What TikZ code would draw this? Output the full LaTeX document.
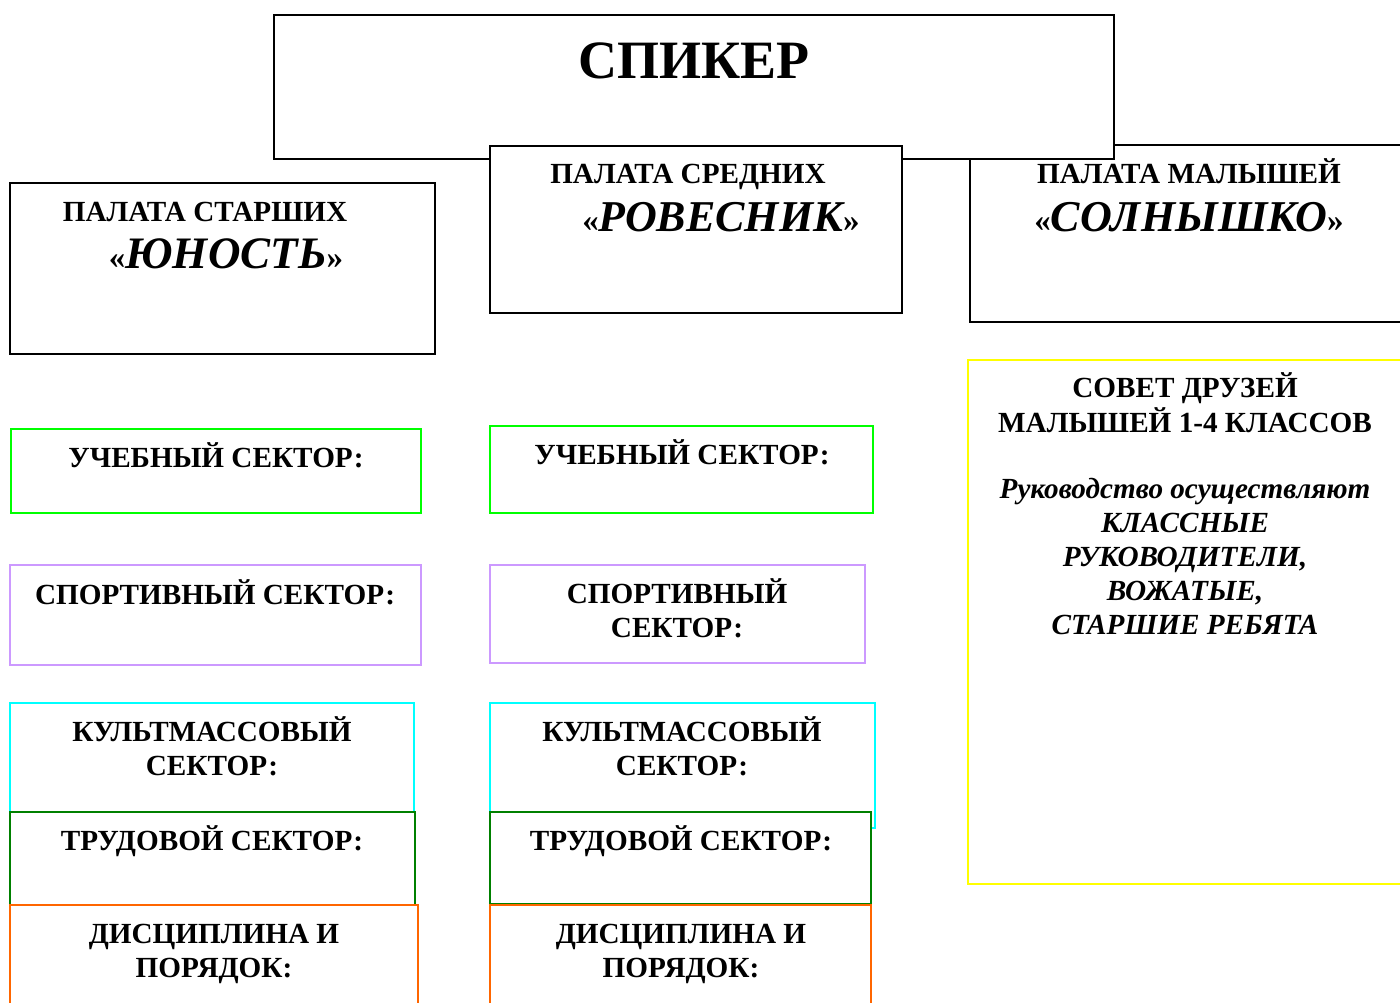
\documentclass[tikz,border=0pt]{standalone}
\usepackage{fontspec}
\setmainfont{Liberation Serif}
\definecolor{cgreen}{HTML}{00FF00}
\definecolor{cviolet}{HTML}{CC99FF}
\definecolor{ccyan}{HTML}{00FFFF}
\definecolor{cdgreen}{HTML}{008000}
\definecolor{corange}{HTML}{FF6600}
\definecolor{cyellow}{HTML}{FFFF00}
\begin{document}
\begin{tikzpicture}[x=0.5pt,y=-0.5pt,
  box/.style={draw, fill=white, line width=1pt, anchor=north west, inner sep=0pt, outer sep=0pt},
  txt/.style={anchor=base, inner sep=0pt, align=center, font=\fontsize{14.6}{16.75}\selectfont\bfseries}]
\useasboundingbox (0,0) rectangle (1400,1002);
\clip (0,0) rectangle (1400,1002);
% top boxes
\node[box, minimum width=220pt, minimum height=88.5pt] (mal) at (970,145) {};
\node[box, minimum width=420pt, minimum height=72pt] (spk) at (274,15) {};
\node[box, minimum width=206pt, minimum height=83.5pt] (sred) at (490,146) {};
\node[box, minimum width=212.5pt, minimum height=85.5pt] (star) at (10,183) {};
% yellow
\node[box, draw=cyellow, minimum width=221pt, minimum height=262pt] (sovet) at (968,360) {};
% left column
\node[box, draw=cgreen, minimum width=205pt, minimum height=42pt] (l1) at (11,429) {};
\node[box, draw=cviolet, minimum width=205.5pt, minimum height=50pt] (l2) at (10,565) {};
\node[box, draw=ccyan, minimum width=202pt, minimum height=54.5pt] (l3) at (10,703) {};
\node[box, draw=cdgreen, minimum width=202.5pt, minimum height=46.5pt] (l4) at (10,812) {};
\node[box, draw=corange, minimum width=204pt, minimum height=55pt] (l5) at (10,905) {};
% middle column
\node[box, draw=cgreen, minimum width=191.5pt, minimum height=43.5pt] (m1) at (490,426) {};
\node[box, draw=cviolet, minimum width=187.5pt, minimum height=49pt] (m2) at (490,565) {};
\node[box, draw=ccyan, minimum width=192.5pt, minimum height=62.5pt] (m3) at (490,703) {};
\node[box, draw=cdgreen, minimum width=190.5pt, minimum height=46pt] (m4) at (490,812) {};
\node[box, draw=corange, minimum width=190.5pt, minimum height=55pt] (m5) at (490,905) {};
% texts
\node[txt, font=\fontsize{27}{30}\selectfont\bfseries] (tspk) at (694,78) {СПИКЕР};
\node[txt] (tstar1) at (205,221) {ПАЛАТА СТАРШИХ};
\node[txt] (tstar2) at (226,268) {\fontsize{16.5}{18}\selectfont«{\fontsize{22.5}{24}\selectfont\itshape ЮНОСТЬ}»};
\node[txt] (tsred1) at (688,183) {ПАЛАТА СРЕДНИХ};
\node[txt] (tsred2) at (721,231) {\fontsize{16.5}{18}\selectfont«{\fontsize{22}{24}\selectfont\itshape РОВЕСНИК}»};
\node[txt] (tmal1) at (1189,183) {ПАЛАТА МАЛЫШЕЙ};
\node[txt] (tmal2) at (1189,231) {\fontsize{16.5}{18}\selectfont«{\fontsize{22}{24}\selectfont\itshape СОЛНЫШКО}»};
\node[txt, font=\fontsize{14.6}{17}\selectfont\bfseries] (tsovet) at (1185,634) {СОВЕТ ДРУЗЕЙ\\[0.5pt]МАЛЫШЕЙ 1-4 КЛАССОВ\\[16pt]
  \itshape Руководство осуществляют\\\itshape КЛАССНЫЕ\\\itshape РУКОВОДИТЕЛИ,\\\itshape ВОЖАТЫЕ,\\\itshape СТАРШИЕ РЕБЯТА};
\node[txt] (tl1) at (216,467) {УЧЕБНЫЙ СЕКТОР:};
\node[txt] (tl2) at (215,604) {СПОРТИВНЫЙ СЕКТОР:};
\node[txt] (tl3) at (212,775) {КУЛЬТМАССОВЫЙ\\СЕКТОР:};
\node[txt] (tl4) at (212,850) {ТРУДОВОЙ СЕКТОР:};
\node[txt] (tl5) at (214,977) {ДИСЦИПЛИНА И\\ПОРЯДОК:};
\node[txt] (tm1) at (682,464) {УЧЕБНЫЙ СЕКТОР:};
\node[txt] (tm2) at (677,637) {СПОРТИВНЫЙ\\СЕКТОР:};
\node[txt] (tm3) at (682,775) {КУЛЬТМАССОВЫЙ\\СЕКТОР:};
\node[txt] (tm4) at (681,850) {ТРУДОВОЙ СЕКТОР:};
\node[txt] (tm5) at (681,977) {ДИСЦИПЛИНА И\\ПОРЯДОК:};
\end{tikzpicture}
\end{document}
